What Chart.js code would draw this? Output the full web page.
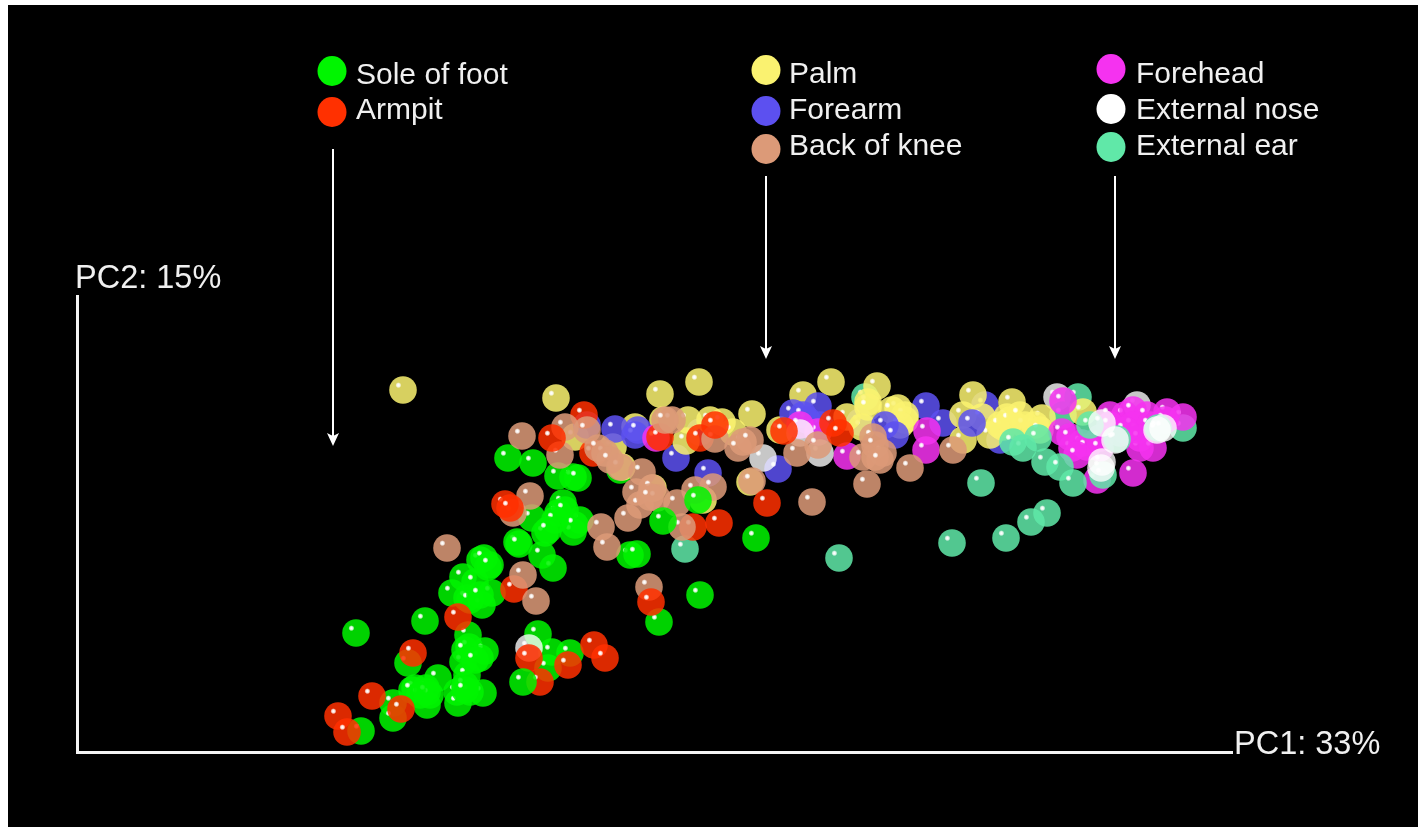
<!DOCTYPE html>
<html>
<head>
<meta charset="utf-8">
<title>PC1 / PC2 skin sites</title>
<script src="https://cdn.jsdelivr.net/npm/chart.js@4/dist/chart.umd.min.js"></script>
<style>
    html, body { margin: 0; padding: 0; background: #fff; overflow: hidden; }
    canvas { display: block; }
</style>
</head>
<body>
<canvas id="pcoa-chart" width="1426" height="827"></canvas>
<script>
// Axis labels
const PC1_LABEL = 'PC1: 33%';
const PC2_LABEL = 'PC2: 15%';

// Scores, [PC1, PC2], in units along each axis
// The *Front / *Back lists are samples of the same site that sit nearer or further in the 3D view
const soleOfFoot = [
    [279,119],[348,131],[386,175],[375,159],[398,170],[415,159],[390,154],[405,147],[411,185],[403,192],
    [476,184],[465,197],[623,157],[582,130],[391,117],[392,105],[408,101],[386,90],[403,94],[390,77],
    [361,74],[338,64],[349,64],[350,47],[380,60],[381,49],[406,59],[393,60],[331,89],[316,49],
    [316,34],[284,21],[461,118],[475,100],[493,99],[471,84],[431,294],[456,289],[481,276],
    [496,275],[501,274],[543,282],[486,249],[481,239],[503,232],[496,220],[455,234],[468,219],[440,210],
    [442,208],[407,194],[413,187],[553,197],[560,198],[679,214],
    [343,57],[353,57],[388,67],[350,60],[335,62],[388,102],[398,92],[388,62],[393,152],[403,157],
    [488,242],[498,227],[478,232],[471,222]
];
const soleOfFootFront = [[586,231],[621,252],[446,70]];
const armpit = [
    [381,135],[336,99],[295,56],[324,43],[261,36],[270,20],[452,94],[463,70],[491,87],[517,107],
    [528,94],[574,150],[475,314],[638,327],[428,248],
    [433,244],[642,229],[690,249],[707,321],[756,329],[763,319]
];
const armpitBack = [[437,163],[507,337],[516,299],[583,315],[623,314],[616,225]];
const palm = [
    [326,362],[479,354],[583,358],[622,370],[726,357],[754,370],[675,338],[586,332],[611,332],[633,332],
    [645,330],[498,315],[558,325],[536,305],[609,311],[656,320],[576,264],[673,270],[703,322],[626,252],
    [545,285],[800,366],[791,350],[791,345],[821,344],[828,332],[896,357],[935,350],[930,335],[926,325],
    [941,325],[886,337],[905,335],[965,334],[958,327],[1006,340],[886,312],[913,317],[785,325],[770,335],
    [923,327],[933,332],[948,327],[963,322],[828,337],[815,342],[823,327],[943,337]
];
const forearm = [
    [599,294],[631,279],[701,283],[623,320],[783,330],[849,346],[866,329],[908,347],[923,312],[743,327]
];
const forearmFront = [
    [538,323],[558,317],[561,322],[510,327],[716,339],[741,346],[730,332],[726,337],[808,327],[818,317],[895,329]
];
const backOfKnee = [
    [446,177],[459,151],[572,165],[445,316],[488,325],[510,322],[483,297],[528,299],[543,285],[565,280],
    [559,260],[575,264],[580,254],[563,247],[551,234],[524,225],[530,205],[453,256],[436,239],[370,204],
    [600,249],[618,262],[636,265],[605,225],[595,332],[638,313],[666,310],[661,304],[673,312],[675,271],
    [735,250],[720,299],[741,307],[796,315],[798,295],[806,299],[786,295],[790,268],[833,284],[876,302],
    [588,332],[573,255],[521,304],[533,292],[798,307],[803,292]
];
const forehead = [
    [579,314],[986,351],[985,320],[850,321],[849,302],[770,296],[741,320],[995,304],[1005,309],[1033,337],
    [1048,337],[1056,342],[1070,337],[1106,335],[1063,304],[1076,304],[1056,279],[1020,272],[1043,319],[1023,314],
    [1061,322],[723,327],[993,315],[1033,327],[1056,327],[1073,327],[1090,340],[1010,305],[1000,297],[1063,314],
    [1048,322],[1023,304],[1088,332]
];
const externalNose = [
    [1025,329],[1086,324],[1025,290],[1024,284],[743,299],[723,319],[686,294],[1038,312],[452,104],[1080,322]
];
const externalNoseBack = [[980,355],[1060,347]];
const externalEar = [
    [946,304],[936,310],[961,314],[968,290],[983,285],[996,269],[1026,277],
    [1013,327],[1040,313],[1081,324],[904,269],[875,209],[929,214],[954,230],[970,239],[762,194],
    [608,203]
];
const externalEarBack = [[788,355],[1001,355],[986,337],[1106,324]];

const siteNames = ['Sole of foot', 'Armpit', 'Palm', 'Forearm', 'Back of knee', 'Forehead', 'External nose', 'External ear'];
const siteColors = ['#00f500', '#ff3000', '#faf270', '#5c50f0', '#dc9a78', '#f532f0', '#ffffff', '#60e8a8'];
const siteAlphas = [0.86, 0.86, 0.86, 0.86, 0.86, 0.86, 0.78, 0.86];

// Painting layers from back to front: [site index, scores]
const layers = [
    [0, soleOfFoot],
    [6, externalNoseBack],
    [7, externalEarBack],
    [3, forearm],
    [2, palm],
    [3, forearmFront],
    [5, forehead],
    [7, externalEar],
    [6, externalNose],
    [1, armpitBack],
    [4, backOfKnee],
    [1, armpit],
    [0, soleOfFootFront]
];

const BALL_RADIUS = 13.8;

// Glossy translucent ball used as the point image
function makeBall(color, alpha) {
    const size = 32;
    const c = size / 2;
    const ball = document.createElement('canvas');
    ball.width = size;
    ball.height = size;
    const ctx = ball.getContext('2d');

    ctx.filter = 'blur(0.5px)';
    ctx.globalAlpha = alpha;
    ctx.fillStyle = color;
    ctx.beginPath();
    ctx.arc(c, c, BALL_RADIUS, 0, Math.PI * 2);
    ctx.fill();

    // soft white catch light
    ctx.filter = 'none';
    ctx.globalAlpha = 1;
    const shine = ctx.createRadialGradient(c - 4.6, c - 4.8, 0.5, c - 4.6, c - 4.8, 3);
    shine.addColorStop(0, 'rgba(255,255,255,1)');
    shine.addColorStop(0.5, 'rgba(255,255,255,0.8)');
    shine.addColorStop(1, 'rgba(255,255,255,0)');
    ctx.fillStyle = shine;
    ctx.fillRect(c - 8, c - 8, 7, 7);
    return ball;
}

// Black backdrop, leaving the white sliver of page at the left, top and right
const backdropPlugin = {
    id: 'backdrop',
    beforeDraw(chart) {
        const { ctx } = chart;
        ctx.save();
        ctx.fillStyle = '#000';
        ctx.fillRect(8, 5, 1410, 822);
        ctx.restore();
    }
};

// Site legend in three groups, each with an arrow down to its part of the cloud
const LEGEND_GROUPS = [
    { dotX: 332, textX: 356, dots: [71, 112], lines: [84, 119], sites: [0, 1], arrow: [333, 149, 446] },
    { dotX: 766, textX: 789, dots: [70, 111, 149], lines: [83, 119, 155], sites: [2, 3, 4], arrow: [766, 176, 359] },
    { dotX: 1111, textX: 1136, dots: [69, 109, 147], lines: [83, 119, 155], sites: [5, 6, 7], arrow: [1115, 176, 359] }
];

const annotationPlugin = {
    id: 'annotations',
    afterDraw(chart) {
        const { ctx } = chart;
        ctx.save();
        ctx.textBaseline = 'alphabetic';
        ctx.textAlign = 'left';

        LEGEND_GROUPS.forEach(group => {
            group.sites.forEach((site, i) => {
                ctx.fillStyle = siteColors[site];
                ctx.beginPath();
                ctx.ellipse(group.dotX, group.dots[i], 14.5, 15, 0, 0, Math.PI * 2);
                ctx.fill();

                ctx.fillStyle = '#f0f0f0';
                ctx.font = '30px "Liberation Sans"';
                ctx.fillText(siteNames[site], group.textX, group.lines[i]);
            });

            const [x, top, tip] = group.arrow;
            ctx.fillStyle = '#fff';
            ctx.fillRect(x - 1, top, 2, tip - top - 8);
            ctx.beginPath();
            ctx.moveTo(x, tip);
            ctx.lineTo(x - 6, tip - 13);
            ctx.lineTo(x, tip - 10);
            ctx.lineTo(x + 6, tip - 13);
            ctx.closePath();
            ctx.fill();
        });

        ctx.fillStyle = '#f0f0f0';
        ctx.font = '32.5px "Liberation Sans"';
        ctx.fillText(PC2_LABEL, 75, 288);
        ctx.fillText(PC1_LABEL, 1234, 754);
        ctx.restore();
    }
};

// Chart.js paints the first dataset last, hence the reverse
const datasets = layers.slice().reverse().map(([site, scores]) => ({
    label: siteNames[site],
    data: scores.map(([x, y]) => ({ x, y })),
    pointStyle: makeBall(siteColors[site], siteAlphas[site]),
    pointRadius: BALL_RADIUS,
    showLine: false
}));

const axisOptions = {
    ticks: { display: false },
    grid: { display: false, drawTicks: false },
    border: { display: true, color: '#f4f4f4', width: 3 }
};

new Chart(document.getElementById('pcoa-chart'), {
    type: 'scatter',
    data: { datasets },
    options: {
        responsive: false,
        animation: false,
        layout: { padding: { left: 77, right: 194, top: 296, bottom: 75 } },
        plugins: {
            legend: { display: false },
            tooltip: { enabled: false }
        },
        scales: {
            x: { ...axisOptions, min: 0, max: 1155 },
            y: { ...axisOptions, min: 0, max: 456 }
        }
    },
    plugins: [backdropPlugin, annotationPlugin]
});
</script>
</body>
</html>
